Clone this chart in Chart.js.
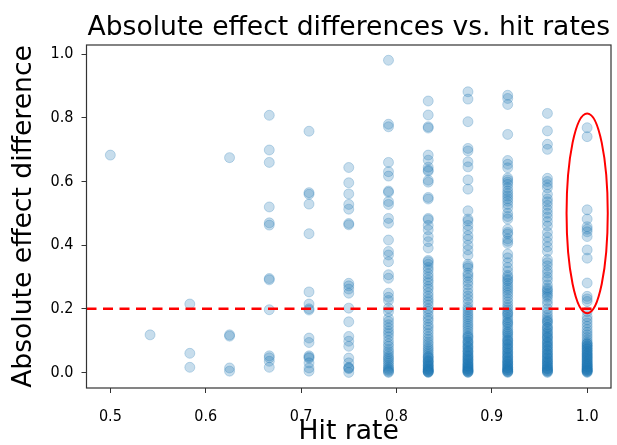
<!DOCTYPE html>
<html>
<head>
<meta charset="utf-8">
<script src="https://cdn.jsdelivr.net/npm/chart.js@4/dist/chart.umd.min.js"></script>
<style>
  html, body { margin: 0; padding: 0; background: #fff; }
  #wrap { width: 617px; height: 445px; }
</style>
</head>
<body>
<div id="wrap"><canvas id="c" width="617" height="445"></canvas></div>
<script>
// ---- data ----
const hitRates = [0.5, 0.541667, 0.583333, 0.625, 0.666667, 0.708333, 0.75, 0.791667, 0.833333, 0.875, 0.916667, 0.958333, 1.0];

const diffs_0500 = [0.683];
const diffs_0542 = [0.118];
const diffs_0583 = [0.215, 0.060, 0.016];
const diffs_0625 = [0.675, 0.118, 0.114, 0.014, 0.004];
const diffs_0667 = [0.808, 0.699, 0.660, 0.520, 0.470, 0.463, 0.295, 0.291, 0.197, 0.052, 0.046, 0.035, 0.016];
const diffs_0708 = [0.758, 0.565, 0.560, 0.529, 0.436, 0.253, 0.215, 0.200, 0.196, 0.108, 0.094, 0.052, 0.048, 0.045, 0.030, 0.014, 0.004];
const diffs_0750 = [0.644, 0.596, 0.561, 0.528, 0.513, 0.468, 0.464, 0.280, 0.272, 0.262, 0.249, 0.202, 0.159, 0.113, 0.098, 0.082, 0.045, 0.030, 0.016, 0.014, 0.012, 0.000];
const diffs_0792 = [0.981, 0.780, 0.772, 0.660, 0.631, 0.617, 0.570, 0.566, 0.537, 0.528, 0.484, 0.469, 0.416, 0.380, 0.369, 0.348, 0.307, 0.296, 0.249, 0.236, 0.226, 0.202, 0.191, 0.170, 0.160, 0.150, 0.140, 0.130, 0.122, 0.112, 0.100, 0.090, 0.082, 0.072, 0.065, 0.058, 0.050, 0.045, 0.040, 0.034, 0.028, 0.022, 0.016, 0.012, 0.008, 0.005, 0.002, 0.000];
const diffs_0833 = [0.853, 0.809, 0.772, 0.768, 0.683, 0.667, 0.645, 0.636, 0.632, 0.604, 0.598, 0.550, 0.545, 0.484, 0.480, 0.462, 0.448, 0.427, 0.411, 0.391, 0.352, 0.348, 0.340, 0.330, 0.322, 0.310, 0.300, 0.290, 0.282, 0.270, 0.262, 0.250, 0.240, 0.230, 0.222, 0.212, 0.200, 0.192, 0.180, 0.170, 0.162, 0.150, 0.142, 0.132, 0.122, 0.112, 0.104, 0.095, 0.088, 0.080, 0.074, 0.068, 0.062, 0.056, 0.050, 0.045, 0.040, 0.036, 0.032, 0.028, 0.024, 0.020, 0.017, 0.014, 0.011, 0.008, 0.006, 0.004, 0.002, 0.001, 0.000, 0.003, 0.010, 0.022, 0.035, 0.048];
const diffs_0875 = [0.882, 0.859, 0.788, 0.704, 0.696, 0.662, 0.646, 0.605, 0.576, 0.508, 0.482, 0.476, 0.462, 0.448, 0.430, 0.418, 0.400, 0.385, 0.368, 0.340, 0.334, 0.328, 0.312, 0.305, 0.296, 0.285, 0.275, 0.262, 0.250, 0.240, 0.230, 0.218, 0.205, 0.198, 0.190, 0.182, 0.175, 0.168, 0.160, 0.152, 0.145, 0.138, 0.130, 0.122, 0.115, 0.108, 0.100, 0.094, 0.088, 0.082, 0.076, 0.070, 0.065, 0.060, 0.055, 0.050, 0.046, 0.042, 0.038, 0.034, 0.030, 0.026, 0.022, 0.019, 0.016, 0.013, 0.010, 0.008, 0.006, 0.004, 0.002, 0.000, 0.001, 0.005, 0.012, 0.020, 0.028, 0.040, 0.052, 0.066, 0.080, 0.096, 0.112];
const diffs_0917 = [0.871, 0.861, 0.842, 0.748, 0.666, 0.654, 0.643, 0.611, 0.605, 0.598, 0.591, 0.580, 0.570, 0.562, 0.554, 0.546, 0.538, 0.528, 0.517, 0.500, 0.490, 0.482, 0.450, 0.440, 0.435, 0.420, 0.412, 0.405, 0.372, 0.360, 0.345, 0.330, 0.318, 0.305, 0.300, 0.292, 0.288, 0.280, 0.272, 0.265, 0.258, 0.250, 0.242, 0.232, 0.222, 0.212, 0.204, 0.196, 0.188, 0.180, 0.172, 0.165, 0.158, 0.150, 0.142, 0.135, 0.128, 0.120, 0.114, 0.108, 0.102, 0.096, 0.090, 0.084, 0.078, 0.072, 0.066, 0.060, 0.055, 0.050, 0.045, 0.040, 0.036, 0.032, 0.028, 0.024, 0.020, 0.016, 0.013, 0.010, 0.007, 0.004, 0.002, 0.000, 0.003, 0.008, 0.015, 0.025, 0.035, 0.048, 0.062, 0.075, 0.088, 0.100, 0.125, 0.155, 0.185];
const diffs_0958 = [0.814, 0.759, 0.717, 0.701, 0.610, 0.600, 0.590, 0.580, 0.560, 0.545, 0.536, 0.525, 0.512, 0.500, 0.488, 0.474, 0.460, 0.440, 0.425, 0.410, 0.395, 0.380, 0.355, 0.345, 0.335, 0.322, 0.312, 0.300, 0.290, 0.275, 0.265, 0.260, 0.255, 0.248, 0.242, 0.236, 0.225, 0.215, 0.200, 0.190, 0.180, 0.172, 0.165, 0.158, 0.150, 0.142, 0.135, 0.128, 0.120, 0.114, 0.108, 0.102, 0.096, 0.090, 0.084, 0.078, 0.072, 0.066, 0.060, 0.055, 0.050, 0.045, 0.040, 0.036, 0.032, 0.028, 0.024, 0.020, 0.016, 0.013, 0.010, 0.007, 0.004, 0.002, 0.000, 0.005, 0.012, 0.022, 0.034, 0.046, 0.058, 0.070, 0.082, 0.094, 0.110, 0.125, 0.140, 0.160];
const diffs_1000 = [0.769, 0.741, 0.511, 0.482, 0.458, 0.450, 0.442, 0.427, 0.385, 0.359, 0.281, 0.239, 0.231, 0.223, 0.191, 0.175, 0.165, 0.155, 0.145, 0.135, 0.126, 0.118, 0.110, 0.102, 0.095, 0.090, 0.085, 0.080, 0.075, 0.070, 0.065, 0.060, 0.056, 0.052, 0.048, 0.044, 0.040, 0.036, 0.032, 0.028, 0.025, 0.022, 0.019, 0.016, 0.013, 0.010, 0.008, 0.006, 0.004, 0.002, 0.000, 0.003, 0.007, 0.012, 0.018, 0.026, 0.034, 0.042, 0.050, 0.058, 0.066, 0.074, 0.082, 0.090];

const diffsByHitRate = [diffs_0500, diffs_0542, diffs_0583, diffs_0625, diffs_0667, diffs_0708, diffs_0750, diffs_0792, diffs_0833, diffs_0875, diffs_0917, diffs_0958, diffs_1000];

const xTickValues = [0.5, 0.6, 0.7, 0.8, 0.9, 1.0];
const xTickLabels = ['0.5', '0.6', '0.7', '0.8', '0.9', '1.0'];
const yTickValues = [0.0, 0.2, 0.4, 0.6, 0.8, 1.0];
const yTickLabels = ['0.0', '0.2', '0.4', '0.6', '0.8', '1.0'];

const thresholdY = 0.2;               // red dashed reference line
const highlight = { x: 1.0, y: 0.5, rx: 0.0216, ry: 0.314 }; // red ellipse (data units)

// ---- build points ----
const points = [];
hitRates.forEach((hr, i) => diffsByHitRate[i].forEach(d => points.push({ x: hr, y: d })));

const FAMILY = "'DejaVu Sans', sans-serif";
const TICK_FAMILY = "'DejaVu Sans Condensed', 'DejaVu Sans', sans-serif";

const overlayPlugin = {
  id: 'overlay',
  afterLayout(chart) {
    const tb = chart.titleBlock;
    if (tb) {
      tb.left = chart.chartArea.left;
      tb.right = chart.chartArea.right;
      tb.width = tb.right - tb.left;
    }
  },
  afterDatasetsDraw(chart) {
    const { ctx, chartArea: a, scales: { x, y } } = chart;
    ctx.save();
    const yp = y.getPixelForValue(thresholdY);
    ctx.strokeStyle = '#ff0000';
    ctx.lineWidth = 2.5;
    ctx.setLineDash([10, 6.5]);
    ctx.beginPath();
    ctx.moveTo(a.left, yp);
    ctx.lineTo(a.right, yp);
    ctx.stroke();
    ctx.setLineDash([]);
    ctx.lineWidth = 2;
    const cx = x.getPixelForValue(highlight.x);
    const cy = y.getPixelForValue(highlight.y);
    const rx = Math.abs(x.getPixelForValue(highlight.x + highlight.rx) - cx);
    const ry = Math.abs(y.getPixelForValue(highlight.y + highlight.ry) - cy);
    ctx.beginPath();
    ctx.ellipse(cx, cy, rx, ry, 0, 0, Math.PI * 2);
    ctx.stroke();
    ctx.strokeStyle = '#333';
    ctx.lineWidth = 1.2;
    ctx.strokeRect(a.left, a.top, a.right - a.left, a.bottom - a.top);
    ctx.restore();
  }
};

new Chart(document.getElementById('c'), {
  type: 'scatter',
  data: {
    datasets: [{
      data: points,
      backgroundColor: 'rgba(31,119,180,0.25)',
      borderColor: 'rgba(31,119,180,0.25)',
      borderWidth: 1,
      pointRadius: 5,
      pointHoverRadius: 5
    }]
  },
  options: {
    responsive: false,
    animation: false,
    devicePixelRatio: 1,
    layout: { padding: { left: 0, right: 2.5, top: 0, bottom: 0 } },
    plugins: {
      legend: { display: false },
      tooltip: { enabled: false },
      title: {
        display: true,
        text: 'Absolute effect differences vs. hit rates',
        color: '#000',
        font: { family: FAMILY, size: 26.6, weight: 'normal', lineHeight: 1 },
        padding: { top: 14.5, bottom: 3.9 }
      }
    },
    scales: {
      x: {
        type: 'linear',
        min: 0.475,
        max: 1.025,
        afterBuildTicks: s => { s.ticks = xTickValues.map(v => ({ value: v })); },
        afterFit: s => { s.height = 57; },
        ticks: {
          callback: (v, i) => xTickLabels[i],
          color: '#000',
          font: { family: TICK_FAMILY, size: 16 },
          padding: 14,
          maxRotation: 0,
          autoSkip: false
        },
        grid: { drawOnChartArea: false, drawTicks: true, tickLength: 5, tickColor: '#333', tickWidth: 1 },
        border: { display: false },
        title: {
          display: true,
          text: 'Hit rate',
          color: '#000',
          font: { family: FAMILY, size: 26.6, lineHeight: 1 },
          padding: { top: 0, bottom: 0 }
        }
      },
      y: {
        type: 'linear',
        min: -0.049,
        max: 1.029,
        afterBuildTicks: s => { s.ticks = yTickValues.map(v => ({ value: v })); },
        afterFit: s => { s.width = 86.5; },
        ticks: {
          callback: (v, i) => yTickLabels[i],
          color: '#000',
          font: { family: TICK_FAMILY, size: 16 },
          padding: 8,
          autoSkip: false
        },
        grid: { drawOnChartArea: false, drawTicks: true, tickLength: 5, tickColor: '#333', tickWidth: 1 },
        border: { display: false },
        title: {
          display: true,
          text: 'Absolute effect difference',
          color: '#000',
          font: { family: FAMILY, size: 26.6, lineHeight: 1 },
          padding: { top: 10.8, bottom: 0 }
        }
      }
    }
  },
  plugins: [overlayPlugin]
});
</script>
</body>
</html>
